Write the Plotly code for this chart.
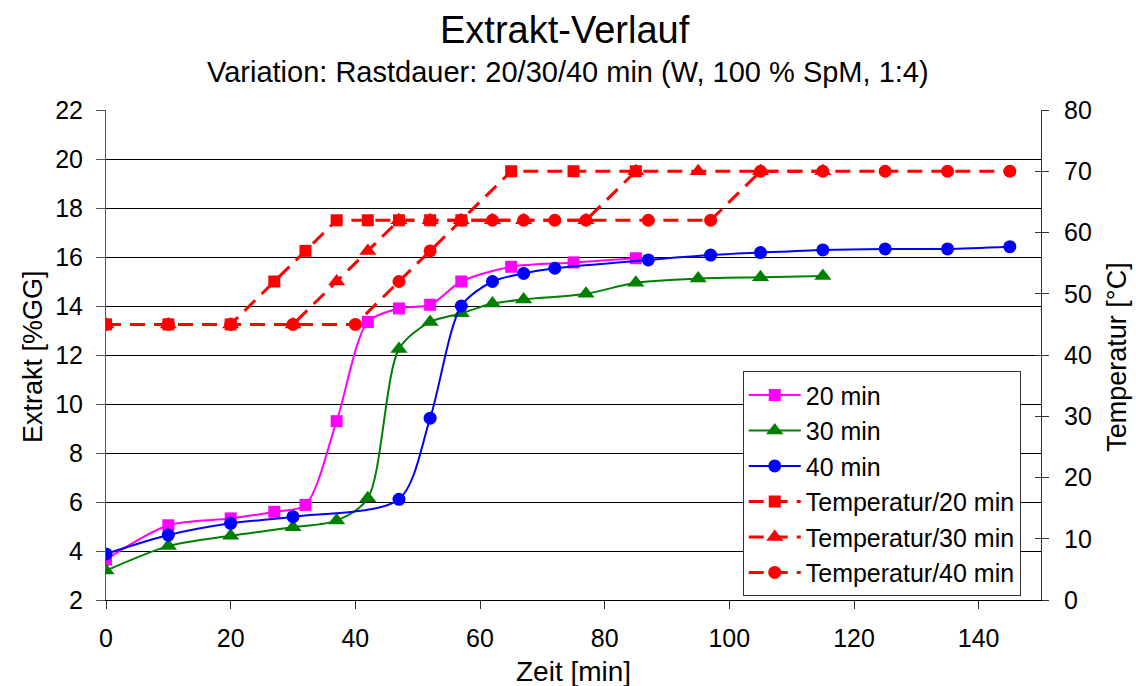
import plotly.graph_objects as go

# ---- data ----
x_e20 = [0, 10, 20, 27, 32, 37, 42, 47, 52, 57, 65, 75, 85]
e20 = [3.65, 5.05, 5.33, 5.6, 5.88, 9.3, 13.35, 13.9, 14.05, 15.0, 15.6, 15.78, 15.95]

x_e30 = [0, 10, 20, 30, 37, 42, 47, 52, 57, 62, 67, 77, 85, 95, 105, 115]
e30 = [3.2, 4.2, 4.62, 4.97, 5.24, 6.15, 12.25, 13.35, 13.7, 14.1, 14.27, 14.5, 14.95, 15.12, 15.17, 15.22]

x_e40 = [0, 10, 20, 30, 47, 52, 57, 62, 67, 72, 87, 97, 105, 115, 125, 135, 145]
e40 = [3.88, 4.65, 5.13, 5.4, 6.11, 9.42, 14.0, 15.0, 15.33, 15.54, 15.88, 16.08, 16.18, 16.29, 16.33, 16.33, 16.42]

x_t20 = [0, 10, 20, 27, 32, 37, 42, 47, 52, 57, 65, 75, 85]
t20 = [45, 45, 45, 52, 57, 62, 62, 62, 62, 62, 70, 70, 70]

x_t30 = [0, 10, 20, 30, 37, 42, 47, 52, 57, 62, 67, 77, 85, 95, 105, 115]
t30 = [45, 45, 45, 45, 52, 57, 62, 62, 62, 62, 62, 62, 70, 70, 70, 70]

x_t40 = [0, 10, 20, 30, 40, 47, 52, 57, 62, 67, 72, 77, 87, 97, 105, 115, 125, 135, 145]
t40 = [45, 45, 45, 45, 45, 52, 57, 62, 62, 62, 62, 62, 62, 62, 70, 70, 70, 70, 70]

x_ticks = [0, 20, 40, 60, 80, 100, 120, 140]
y_ticks = [2, 4, 6, 8, 10, 12, 14, 16, 18, 20, 22]
y2_ticks = [0, 10, 20, 30, 40, 50, 60, 70, 80]

FONT = "Liberation Sans, Arial, sans-serif"

fig = go.Figure()

def ext(x, y, name, color, symbol, size):
    fig.add_trace(go.Scatter(
        x=x, y=y, name=name, mode="lines+markers",
        line=dict(color=color, width=2, shape="spline", smoothing=0.8),
        marker=dict(symbol=symbol, size=size, color=color),
        xaxis="x", yaxis="y"))

def temp(x, y, name, symbol, size):
    fig.add_trace(go.Scatter(
        x=x, y=y, name=name, mode="lines+markers",
        line=dict(color="#FF0000", width=3, dash="15px,9px"),
        marker=dict(symbol=symbol, size=size, color="#FF0000"),
        xaxis="x", yaxis="y2"))

ext(x_e20, e20, "20 min", "#FF00FF", "square", 12)
ext(x_e30, e30, "30 min", "#008000", "triangle-up", 15)
ext(x_e40, e40, "40 min", "#0000FF", "circle", 13)
temp(x_t20, t20, "Temperatur/20 min", "square", 12)
temp(x_t30, t30, "Temperatur/30 min", "triangle-up", 15)
temp(x_t40, t40, "Temperatur/40 min", "circle", 13)

# helper trace to activate y3 (inside ticks on right axis)
fig.add_trace(go.Scatter(x=[None], y=[None], xaxis="x", yaxis="y3", showlegend=False))

fig.update_layout(
    width=1136, height=686,
    margin=dict(l=106, r=95, t=110, b=86),
    paper_bgcolor="white", plot_bgcolor="white",
    font=dict(family=FONT, size=25, color="black"),
    showlegend=True,
    legend=dict(x=0.681, y=0.467, xanchor="left", yanchor="top",
                bgcolor="white", bordercolor="#333333", borderwidth=1,
                font=dict(size=25), tracegroupgap=0, itemwidth=52),
    xaxis=dict(range=[0, 150], tickvals=x_ticks, showgrid=False, zeroline=False,
               showline=True, linecolor="black", linewidth=1,
               ticks="outside", ticklen=8, tickcolor="#333333",
               ticklabelstandoff=8, tickfont=dict(size=25)),
    yaxis=dict(range=[2, 22], tickvals=y_ticks, showgrid=True, gridcolor="#000000",
               gridwidth=1, zeroline=False, showline=True, linecolor="#555555",
               ticks="outside", ticklen=9, tickcolor="#555555",
               ticklabelstandoff=8, tickfont=dict(size=25)),
    yaxis2=dict(range=[0, 80], tickvals=y2_ticks, overlaying="y", side="right",
                showgrid=False, zeroline=False, showline=True, linecolor="#333333",
                ticks="outside", ticklen=7, tickcolor="#333333",
                ticklabelstandoff=10, tickfont=dict(size=25)),
    yaxis3=dict(range=[0, 80], tickvals=y2_ticks, overlaying="y", side="right",
                showgrid=False, zeroline=False, showline=False,
                ticks="inside", ticklen=6, tickcolor="#333333", showticklabels=False),
    annotations=[
        dict(text="Extrakt-Verlauf", x=0.491, y=1.163, xref="paper", yref="paper",
             xanchor="center", yanchor="middle", showarrow=False,
             font=dict(size=38)),
        dict(text="Variation: Rastdauer: 20/30/40 min (W, 100 % SpM, 1:4)",
             x=0.494, y=1.078, xref="paper", yref="paper",
             xanchor="center", yanchor="middle", showarrow=False,
             font=dict(size=29)),
        dict(text="Zeit [min]", x=0.5, y=-0.145, xref="paper", yref="paper",
             xanchor="center", yanchor="middle", showarrow=False,
             font=dict(size=28)),
        dict(text="Extrakt [%GG]", x=-0.078, y=0.496, xref="paper", yref="paper",
             xanchor="center", yanchor="middle", showarrow=False, textangle=-90,
             font=dict(size=27)),
        dict(text="Temperatur [°C]", x=1.081, y=0.496, xref="paper", yref="paper",
             xanchor="center", yanchor="middle", showarrow=False, textangle=-90,
             font=dict(size=27)),
    ],
)

fig.write_html("out.html")
